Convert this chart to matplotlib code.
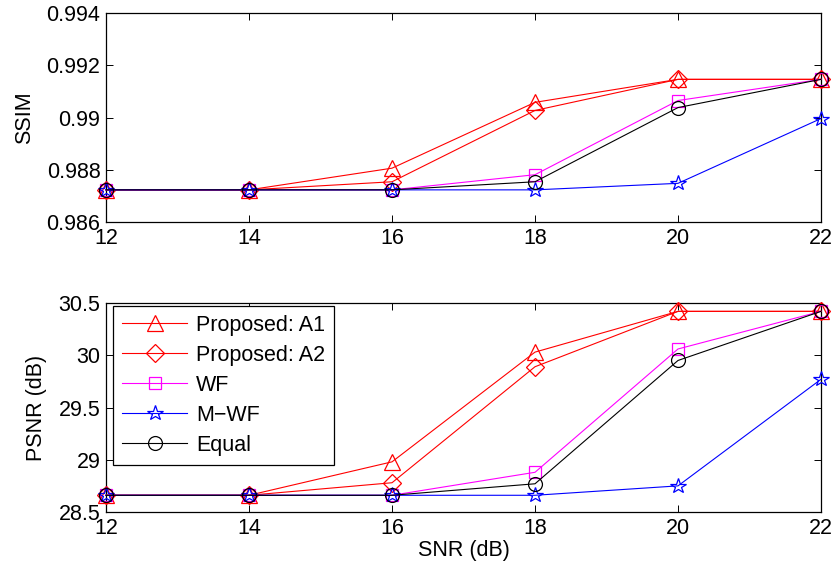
import numpy as np
import matplotlib
matplotlib.use("Agg")
import matplotlib.pyplot as plt
from matplotlib.ticker import FuncFormatter

# SNR sweep and the per-method image quality numbers
snr = [12, 14, 16, 18, 20, 22]

ssim_a1 = [0.98723, 0.98723, 0.98806, 0.99058, 0.99146, 0.99146]
ssim_a2 = [0.98723, 0.98723, 0.98754, 0.99027, 0.99146, 0.99146]
ssim_wf = [0.98723, 0.98723, 0.98723, 0.98781, 0.99065, 0.99146]
ssim_mwf = [0.98723, 0.98723, 0.98723, 0.98723, 0.98748, 0.98996]
ssim_eq = [0.98723, 0.98723, 0.98723, 0.98754, 0.99038, 0.99146]

psnr_a1 = [28.66, 28.66, 28.98, 30.03, 30.42, 30.42]
psnr_a2 = [28.66, 28.66, 28.78, 29.89, 30.42, 30.42]
psnr_wf = [28.66, 28.66, 28.66, 28.88, 30.06, 30.42]
psnr_mwf = [28.66, 28.66, 28.66, 28.66, 28.75, 29.77]
psnr_eq = [28.66, 28.66, 28.66, 28.77, 29.95, 30.42]

labels = ["Proposed: A1", "Proposed: A2", "WF", "M\u2212WF", "Equal"]
styles = [("#ff0000", "^"), ("#ff0000", "D"), ("#ff00ff", "s"),
          ("#0000ff", "*"), ("#000000", "o")]
msizes = [11, 9, 9, 11.5, 10]

plt.rcParams["font.family"] = ["Liberation Sans", "DejaVu Sans"]
plt.rcParams["font.size"] = 15.5

W, H = 835, 578
fig = plt.figure(figsize=(W / 100, H / 100), dpi=100)
ax1 = fig.add_axes([106 / W, (H - 222) / H, 715 / W, 209 / H])
ax2 = fig.add_axes([106 / W, (H - 512) / H, 715 / W, 209 / H])


def draw(ax, series):
    for y, lab, (c, m), ms in zip(series, labels, styles, msizes):
        ax.plot(snr, y, color=c, lw=0.8, marker=m, ms=ms, mfc="none",
                mec=c, mew=0.9, label=lab, clip_on=False, zorder=3)
    ax.set_xlim(12, 22)
    ax.set_xticks(snr)
    ax.tick_params(direction="in", top=True, right=True, length=5, width=0.7,
                   pad=4)
    for s in ax.spines.values():
        s.set_linewidth(0.9)


draw(ax1, [ssim_a1, ssim_a2, ssim_wf, ssim_mwf, ssim_eq])
ax1.set_ylim(0.986, 0.994)
ax1.set_yticks([0.986, 0.988, 0.99, 0.992, 0.994])
ax1.yaxis.set_major_formatter(FuncFormatter(lambda v, p: f"{v:g}"))
ax1.set_ylabel("SSIM", labelpad=8)

draw(ax2, [psnr_a1, psnr_a2, psnr_wf, psnr_mwf, psnr_eq])
ax2.set_ylim(28.5, 30.5)
ax2.set_yticks([28.5, 29, 29.5, 30, 30.5])
ax2.yaxis.set_major_formatter(FuncFormatter(lambda v, p: f"{v:g}"))
ax2.set_ylabel("PSNR (dB)", labelpad=8)
ax2.set_xlabel("SNR (dB)", labelpad=1)

leg = ax2.legend(loc="upper left", bbox_to_anchor=(0.01, 0.985),
                 handlelength=3.05, labelspacing=0.42, borderpad=0.4,
                 handletextpad=0.4, fancybox=False, framealpha=1,
                 edgecolor="black", borderaxespad=0)
leg.get_frame().set_linewidth(0.9)

fig.savefig("out.png", dpi=100, facecolor="white")
